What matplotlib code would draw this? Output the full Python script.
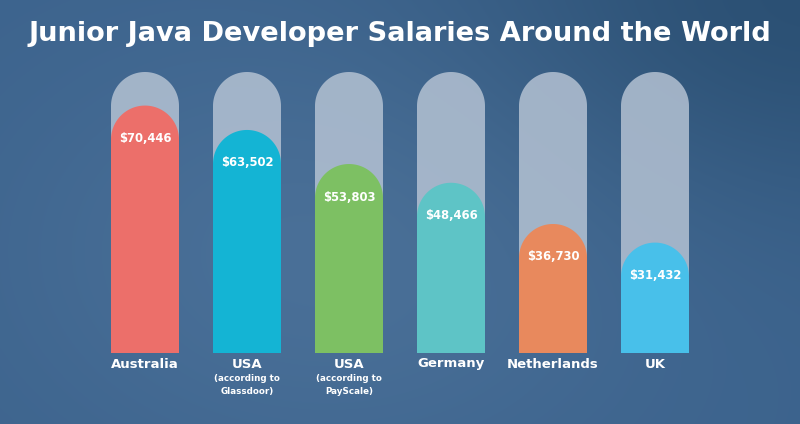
import numpy as np
import matplotlib
matplotlib.use("Agg")
import matplotlib.pyplot as plt
from matplotlib.path import Path
from matplotlib.patches import PathPatch

title = "Junior Java Developer Salaries Around the World"
countries = ["Australia", "USA", "USA", "Germany", "Netherlands", "UK"]
sublabels = ["", "(according to\nGlassdoor)", "(according to\nPayScale)", "", "", ""]
salaries = [70446, 63502, 53803, 48466, 36730, 31432]
value_labels = ["$70,446", "$63,502", "$53,803", "$48,466", "$36,730", "$31,432"]
track_max = 80000
colors = ["#EC6F6A", "#14B4D4", "#7DC063", "#5EC4C6", "#E8895D", "#48C0EA"]

W, H = 800, 424
fig = plt.figure(figsize=(8, 4.24), dpi=100)

# background gradient
bg = fig.add_axes([0, 0, 1, 1], zorder=0)
yy, xx = np.mgrid[0:H, 0:W]
base = np.array([60, 99, 141], float)
light = np.exp(-(((xx - 330) / 330.0) ** 2 + ((yy - 250) / 230.0) ** 2))
dark = np.exp(-(((xx - 800) / 330.0) ** 2 + ((yy - 0) / 200.0) ** 2))
img = base[None, None, :] + light[..., None] * np.array([14, 13, 11]) - dark[..., None] * np.array([17, 19, 25])
bg.imshow(np.clip(img, 0, 255).astype(np.uint8), aspect="auto", extent=(0, W, H, 0))
bg.set_axis_off()

# data axes
left_px, right_px = 94, 706
bot_px, top_px = 424 - 353, 424 - 72
ax = fig.add_axes([left_px / W, bot_px / H, (right_px - left_px) / W, (top_px - bot_px) / H], zorder=1)
ax.set_xlim(-0.5, len(countries) - 0.5)
ax.set_ylim(0, track_max)
ax.set_axis_off()

bw = 0.6667
px_per_x = (right_px - left_px) / len(countries)
px_per_y = (top_px - bot_px) / track_max
r_px = bw * px_per_x / 2
ry = r_px / px_per_y


def rounded_bar(x, h, color, alpha=1.0, z=2):
    n = 60
    t = np.linspace(0, np.pi, n)
    cx, cy = x, h - ry
    verts = [(x - bw / 2, 0), (x + bw / 2, 0)]
    verts += [(cx + bw / 2 * np.cos(a), cy + ry * np.sin(a)) for a in t]
    verts += [(x - bw / 2, 0)]
    codes = [Path.MOVETO] + [Path.LINETO] * (len(verts) - 2) + [Path.CLOSEPOLY]
    ax.add_patch(PathPatch(Path(verts, codes), facecolor=color, edgecolor="none", alpha=alpha, zorder=z))


for i, (v, c) in enumerate(zip(salaries, colors)):
    rounded_bar(i, track_max, "#b4c2d3", alpha=0.85, z=1)
    rounded_bar(i, v, c, z=2)
    ax.text(i, v - 33 / px_per_y, value_labels[i], ha="center", va="center", color="white",
            fontsize=8.4, fontweight="bold", family="DejaVu Sans", zorder=3)
    ax.annotate(countries[i], xy=(i, 0), xytext=(0, -11 * 0.72), textcoords="offset points",
                ha="center", va="center", color="white", fontsize=9.5, fontweight="bold",
                family="DejaVu Sans", annotation_clip=False)
    if sublabels[i]:
        ax.annotate(sublabels[i], xy=(i, 0), xytext=(0, -32 * 0.72), textcoords="offset points",
                    ha="center", va="center", color="white", fontsize=6.3, fontweight="bold",
                    family="DejaVu Sans", linespacing=1.6, annotation_clip=False)

fig.text(0.5, 1 - 34 / H, title, ha="center", va="center", color="white",
         fontsize=19.6, fontweight="bold", family="DejaVu Sans", zorder=5)

fig.savefig("out.png", dpi=100)
